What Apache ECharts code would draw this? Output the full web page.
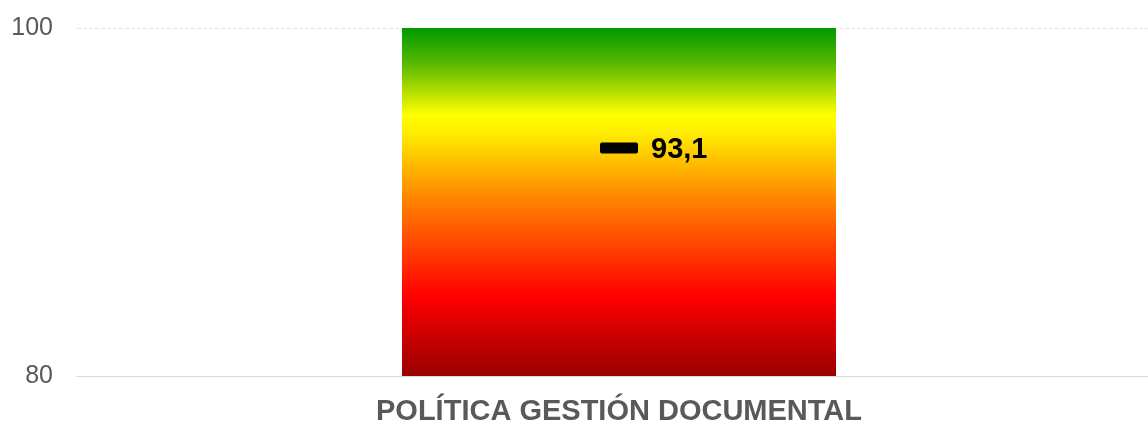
<!DOCTYPE html>
<html><head><meta charset="utf-8">
<script src="https://cdn.jsdelivr.net/npm/echarts@6/dist/echarts.min.js"></script>
<style>html,body{margin:0;padding:0;background:#fff}#c{width:1148px;height:422px}</style>
</head><body><div id="c"></div>
<script>
const categories = ['POLÍTICA GESTIÓN DOCUMENTAL'];
const scaleTop = [100];
const resultValues = [93.1];
const yMin = 80, yMax = 100, yInterval = 20;

const chart = echarts.init(document.getElementById('c'));
const font = '"Liberation Sans", Arial, sans-serif';
chart.setOption({
  animation: false,
  grid: { left: 77, width: 1084, top: 28, height: 348, outerBoundsMode: 'none', containLabel: false },
  xAxis: {
    type: 'category', data: categories,
    axisLine: { lineStyle: { color: '#d9d9d9', width: 1 } },
    axisTick: { show: false },
    axisLabel: { color: '#595959', fontFamily: font, fontWeight: 'bold', fontSize: 29, margin: 21 }
  },
  yAxis: {
    type: 'value', min: yMin, max: yMax, interval: yInterval,
    axisLine: { show: false }, axisTick: { show: false },
    axisLabel: { color: '#595959', fontFamily: font, fontSize: 25, margin: 24 },
    splitLine: { lineStyle: { color: '#e6e6e6', type: [4, 2] } }
  },
  series: [
    {
      type: 'bar', data: scaleTop, barWidth: 434, silent: true,
      itemStyle: {
        color: new echarts.graphic.LinearGradient(0, 0, 0, 1, [
          { offset: 0, color: '#009900' },
          { offset: 0.1, color: '#55b800' },
          { offset: 0.25, color: '#ffff00' },
          { offset: 0.3, color: '#ffee00' },
          { offset: 0.5, color: '#ff8000' },
          { offset: 0.77, color: '#ff0000' },
          { offset: 1, color: '#990000' }
        ])
      }
    },
    {
      type: 'scatter', data: resultValues,
      symbol: 'path://M2,0H36Q38,0 38,2V9Q38,11 36,11H2Q0,11 0,9V2Q0,0 2,0Z',
      symbolSize: [38, 11],
      itemStyle: { color: '#000', opacity: 1 },
      label: {
        show: true, position: 'right', distance: 13, offset: [0, 2], color: '#000',
        fontFamily: font, fontWeight: 'bold', fontSize: 29,
        formatter: p => String(p.value).replace('.', ',')
      }
    }
  ]
});
</script></body></html>
